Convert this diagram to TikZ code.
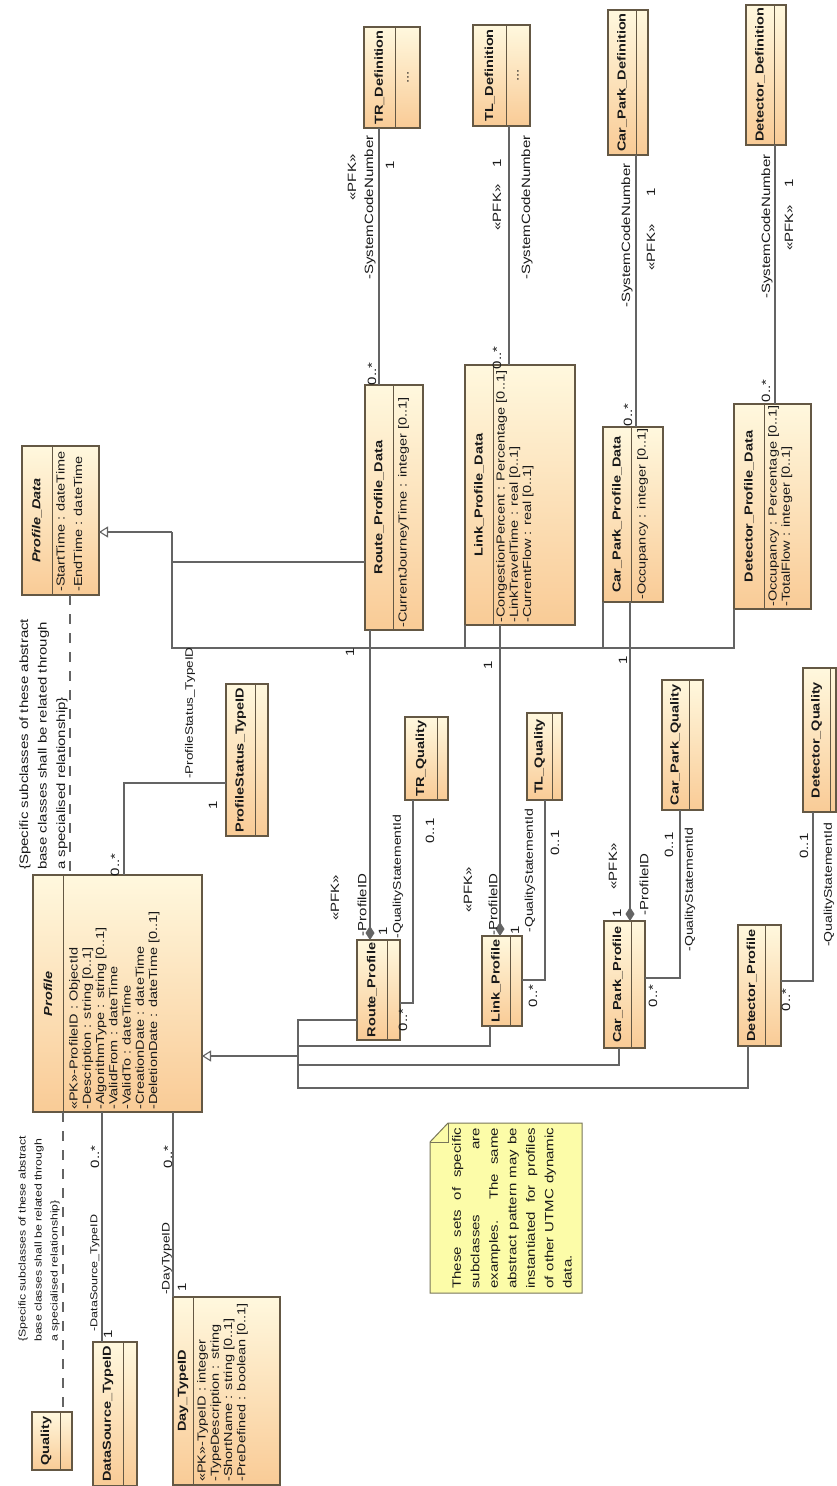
\documentclass[tikz,border=0pt]{standalone}
\usepackage{fontspec}
\setmainfont{Liberation Sans}
\usetikzlibrary{arrows.meta}

\definecolor{clsborder}{RGB}{100,88,68}
\definecolor{clspale}{RGB}{255,248,222}
\definecolor{clsorange}{RGB}{249,203,150}
\definecolor{connclr}{RGB}{100,100,100}
\definecolor{notefill}{RGB}{252,252,168}
\definecolor{noteline}{RGB}{120,118,90}
\definecolor{inkclr}{RGB}{25,25,25}

\tikzset{
  rot/.style={rotate=90, yscale=0.8},
  cls/.style={rot, draw=clsborder, line width=1.3pt, top color=clspale, bottom color=clsorange, inner sep=0pt, outer sep=0pt},
  ttl/.style={rot, inner sep=0pt, text=inkclr, font=\fontsize{14.5}{17}\selectfont\bfseries},
  attr/.style={rot, inner sep=0pt, text=inkclr, align=left, anchor=north west, font=\fontsize{14.5}{16.6}\selectfont},
  lbl/.style={rot, inner sep=0pt, text=inkclr, font=\fontsize{15}{17}\selectfont},
  qlbl/.style={lbl, font=\fontsize{14}{17}\selectfont},
  conn/.style={draw=connclr, line width=1.1pt},
  assoc/.style={conn},
  comp/.style={conn, -{Diamond[length=14pt, width=9pt]}},
  gen/.style={conn, -{Triangle[open, length=9pt, width=11pt, fill=white]}},
  constr/.style={conn, dash pattern=on 10pt off 9pt},
}

% class box: name, X1, X2, Y1, Y2, divider X, title
\newcommand\umlbox[7]{%
  \node[cls, minimum width={(#5-#4)*1pt}, minimum height={(#3-#2)*1.25pt}] (#1) at ({(#2+#3)/2},{(#4+#5)/2}) {};
  \draw[clsborder, line width=1pt] (#6,#4) -- (#6,#5);
  \node[ttl] (#1-t) at ({(#2+#6)/2},{(#4+#5)/2}) {#7};
}

\begin{document}
\begin{tikzpicture}[x=1pt,y=-1pt]
\useasboundingbox (0,0) rectangle (836,1486);
\fill[white] (0,0) rectangle (836,1486);

% ---- definition classes
\umlbox{trdef}{364}{420}{27}{128}{395}{TR\_Definition}
\node[lbl] (trdef-a) at (408,77.5) {...};
\umlbox{tldef}{473}{530}{25}{126}{506}{TL\_Definition}
\node[lbl] (tldef-a) at (518,75.5) {...};
\umlbox{cpdef}{608}{648}{10}{155}{636}{Car\_Park\_Definition}
\umlbox{detdef}{746}{786}{5}{145}{774}{Detector\_Definition}

% ---- profile data classes
\umlbox{pdata}{22}{99}{446}{595}{52}{\itshape Profile\_Data}
\node[attr, font=\fontsize{14.5}{22}\selectfont] (pdata-a) at (56,592) {-StartTime : dateTime\\-EndTime : dateTime};
\umlbox{rpd}{365}{423}{385}{630}{393}{Route\_Profile\_Data}
\node[attr] (rpd-a) at (398,628) {-CurrentJourneyTime : integer [0..1]};
\umlbox{lpd}{465}{575}{365}{625}{493}{Link\_Profile\_Data}
\node[attr] (lpd-a) at (496,623) {-CongestionPercent : Percentage [0..1]\\-LinkTravelTime : real [0..1]\\-CurrentFlow : real [0..1]};
\umlbox{cppd}{603}{663}{427}{602}{631}{Car\_Park\_Profile\_Data}
\node[attr] (cppd-a) at (637,600) {-Occupancy : integer [0..1]};
\umlbox{dpd}{734}{811}{404}{609}{764}{Detector\_Profile\_Data}
\node[attr] (dpd-a) at (768,607) {-Occupancy : Percentage [0..1]\\-TotalFlow : integer [0..1]};

% ---- profile classes
\umlbox{profile}{33}{202}{875}{1112}{63}{\itshape Profile}
\node[attr] (profile-a) at (69,1110) {«PK»-ProfileID : ObjectId\\-Description : string [0..1]\\-AlgorithmType : string [0..1]\\-ValidFrom : dateTime\\-ValidTo : dateTime\\-CreationDate : dateTime\\-DeletionDate : dateTime [0..1]};
\umlbox{pstat}{226}{268}{684}{836}{255}{ProfileStatus\_TypeID}
\umlbox{rp}{357}{400}{940}{1040}{387}{Route\_Profile}
\umlbox{lp}{482}{522}{936}{1026}{510}{Link\_Profile}
\umlbox{cpp}{604}{645}{921}{1048}{631}{Car\_Park\_Profile}
\umlbox{dp}{738}{781}{925}{1046}{765}{Detector\_Profile}
\umlbox{trq}{405}{448}{717}{800}{437}{TR\_Quality}
\umlbox{tlq}{527}{562}{713}{800}{552}{TL\_Quality}
\umlbox{cpq}{662}{703}{680}{810}{689}{Car\_Park\_Quality}
\umlbox{detq}{803}{836}{668}{812}{830}{Detector\_Quality}
\umlbox{quality}{32}{72}{1412}{1470}{60}{Quality}
\umlbox{dstype}{93}{137}{1342}{1486}{123}{DataSource\_TypeID}
\umlbox{daytype}{173}{280}{1297}{1485}{193}{Day\_TypeID}
\node[attr] (daytype-a) at (197,1482) {«PK»-TypeID : integer\\-TypeDescription : string\\-ShortName : string [0..1]\\-PreDefined : boolean [0..1]};

% ---- note
\draw[noteline, fill=notefill, line width=1pt] (430,1293) -- (430,1142) -- (448,1123) -- (582,1123) -- (582,1293) -- cycle;
\draw[noteline, line width=0.8pt] (430,1142) -- (448,1142) -- (448,1123);
\node[rot, anchor=north west, text width=161pt, align=justify, inner sep=0pt, text=inkclr, font=\fontsize{15}{23.1}\selectfont] (note) at (452,1289) {These sets of specific\linebreak subclasses are\linebreak examples. The same\linebreak abstract pattern may be\linebreak instantiated for profiles\linebreak of other UTMC dynamic\linebreak data.};

% ---- routing points
\coordinate (cTR) at (379,0);
\coordinate (cTL) at (509,0);
\coordinate (cCP) at (636,0);
\coordinate (cDet) at (775,0);
\coordinate (cRC) at (370,0);
\coordinate (cLC) at (500,0);
\coordinate (cCC) at (630,0);
\coordinate (qR) at (413,1003);
\coordinate (qL) at (545,980);
\coordinate (qC) at (680,978);
\coordinate (qD) at (813,981);
\coordinate (gR) at (172,562);
\coordinate (gT1) at (172,532);
\coordinate (gT2) at (172,648);
\coordinate (hT) at (298,1056);
\coordinate (hR) at (298,1020);
\coordinate (hL) at (490,1046);
\coordinate (hC) at (619,1065);
\coordinate (hD) at (748,1088);
\coordinate (pS) at (124,783);
\coordinate (dS) at (102,0);
\coordinate (dD) at (173,0);
\coordinate (kU) at (70,0);
\coordinate (kL) at (63,0);

% ---- definition associations
\draw[assoc] (trdef.west -| cTR) -- (rpd.east -| cTR);
\draw[assoc] (tldef.west -| cTL) -- (lpd.east -| cTL);
\draw[assoc] (cpdef.west -| cCP) -- (cppd.east -| cCP);
\draw[assoc] (detdef.west -| cDet) -- (dpd.east -| cDet);

% ---- compositions
\draw[comp] (rpd.west -| cRC) -- (rp.east -| cRC);
\draw[comp] (lpd.west -| cLC) -- (lp.east -| cLC);
\draw[comp] (cppd.west -| cCC) -- (cpp.east -| cCC);

% ---- quality associations
\draw[assoc] (rp.south |- qR) -| (trq.west -| qR);
\draw[assoc] (lp.south |- qL) -| (tlq.west -| qL);
\draw[assoc] (cpp.south |- qC) -| (cpq.west -| qC);
\draw[assoc] (dp.south |- qD) -| (detq.west -| qD);

% ---- generalisation to Profile_Data
\draw[conn] (rpd.north |- gR) -| (gT1);
\draw[conn] (lpd.north west) |- (gT2) -- (gT1);
\draw[conn] (cppd.north west) |- (gT2);
\draw[conn] (dpd.north west) |- (gT2);
\draw[gen] (gT1) -- (pdata.south |- gT1);

% ---- generalisation to Profile
\draw[conn] (rp.north |- hR) -| (hT);
\draw[conn] (lp.west -| hL) -- (hL) -| (hT);
\draw[conn] (cpp.west -| hC) -- (hC) -| (hT);
\draw[conn] (dp.west -| hD) -- (hD) -| (hT);
\draw[gen] (hT) -- (profile.south |- hT);

% ---- profile associations
\draw[assoc] (profile.east -| pS) -- (pS) -- (pstat.north |- pS);
\draw[assoc] (profile.west -| dS) -- (dstype.east -| dS);
\draw[assoc] (profile.west -| dD) -- (daytype.east -| dD);

% ---- constraint links
\draw[constr] (pdata.west -| kU) -- (profile.east -| kU);
\draw[constr] (profile.west -| kL) -- (quality.east -| kL);
\node[lbl, align=left, anchor=west, font=\fontsize{15}{23}\selectfont] (cU) at (43.5,870) {\{Specific subclasses of these abstract\\base classes shall be related through\\a specialised relationship\}};
\node[lbl, align=left, anchor=west, font=\fontsize{12.3}{20}\selectfont] (cL) at (39,1342) {\{Specific subclasses of these abstract\\base classes shall be related through\\a specialised relationship\}};

% ---- labels: definition links
\node[lbl] (l1) at (370,207.5) {-SystemCodeNumber};
\node[lbl] (l2) at (352,177.5) {«PFK»};
\node[lbl] (l3) at (390,165) {1};
\node[lbl] (l4) at (372,374) {0..*};
\node[lbl] (l5) at (527,207.5) {-SystemCodeNumber};
\node[lbl] (l6) at (497,207.5) {«PFK»};
\node[lbl] (l7) at (497,163) {1};
\node[lbl] (l8) at (497,358) {0..*};
\node[lbl] (l9) at (627,235.5) {-SystemCodeNumber};
\node[lbl] (l10) at (651,247.5) {«PFK»};
\node[lbl] (l11) at (651,192) {1};
\node[lbl] (l12) at (628,415) {0..*};
\node[lbl] (l13) at (767,226.5) {-SystemCodeNumber};
\node[lbl] (l14) at (789,228) {«PFK»};
\node[lbl] (l15) at (789,183) {1};
\node[lbl] (l16) at (766,391) {0..*};

% ---- labels: compositions
\node[lbl] (l17) at (335,898) {«PFK»};
\node[lbl] (l18) at (362,905) {-ProfileID};
\node[lbl] (l19) at (383,931) {1};
\node[lbl] (l20) at (350,652) {1};
\node[lbl] (l21) at (468,890) {«PFK»};
\node[lbl] (l22) at (493,904.5) {-ProfileID};
\node[lbl] (l23) at (515,930) {1};
\node[lbl] (l24) at (488,665) {1};
\node[lbl] (l25) at (613,866.5) {«PFK»};
\node[lbl] (l26) at (644,884.5) {-ProfileID};
\node[lbl] (l27) at (617,913) {1};
\node[lbl] (l28) at (623,660) {1};

% ---- labels: quality links
\node[qlbl] (l29) at (398,876.5) {-QualityStatementId};
\node[lbl] (l30) at (403,1020) {0..*};
\node[lbl] (l31) at (430,831) {0..1};
\node[qlbl] (l32) at (530,870.5) {-QualityStatementId};
\node[lbl] (l33) at (533,996) {0..*};
\node[lbl] (l34) at (555,843) {0..1};
\node[qlbl] (l35) at (690,889.5) {-QualityStatementId};
\node[lbl] (l36) at (653,996) {0..*};
\node[lbl] (l37) at (669,845) {0..1};
\node[qlbl] (l38) at (829,885) {-QualityStatementId};
\node[lbl] (l39) at (786,1000) {0..*};
\node[lbl] (l40) at (804,846) {0..1};

% ---- labels: profile links
\node[lbl, font=\fontsize{13.5}{16}\selectfont] (l41) at (190,713) {-ProfileStatus\_TypeID};
\node[lbl] (l42) at (213,805) {1};
\node[lbl] (l43) at (115,865) {0..*};
\node[lbl, font=\fontsize{12.5}{15}\selectfont] (l44) at (95,1273) {-DataSource\_TypeID};
\node[lbl] (l45) at (95,1157) {0..*};
\node[lbl] (l46) at (108,1334) {1};
\node[lbl, font=\fontsize{13.7}{16}\selectfont] (l47) at (167,1258.5) {-DayTypeID};
\node[lbl] (l48) at (168,1157) {0..*};
\node[lbl] (l49) at (182,1287) {1};
\end{tikzpicture}
\end{document}
